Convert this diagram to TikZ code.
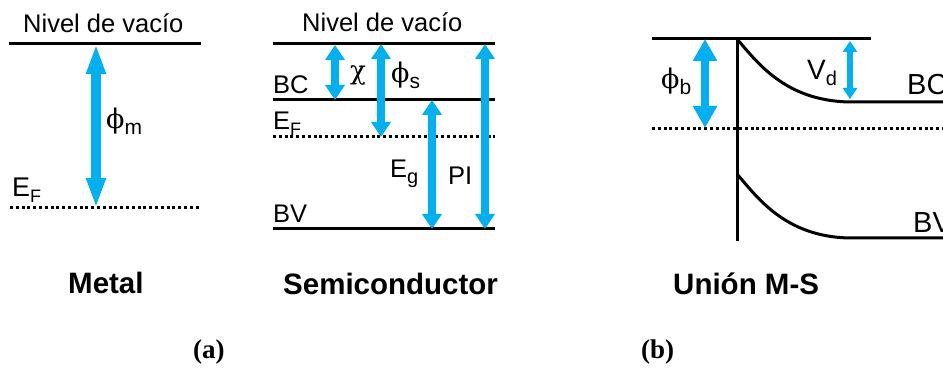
\documentclass[tikz,border=0pt]{standalone}
\usepackage{fontspec}
\setmainfont{Liberation Sans}
\newfontfamily\grk{DejaVu Serif}
\newfontfamily\tms{Liberation Serif}
\usetikzlibrary{arrows.meta}
\definecolor{cy}{RGB}{0,176,240}
\newcommand\fs[1]{\fontsize{#1}{#1}\selectfont}
\newcommand\sbs[2]{\raisebox{-0.2em}{\fs{#1}#2}}
\tikzset{
  lvl/.style={line width=3pt},
  dots/.style={line width=3pt, dash pattern=on 3pt off 2.8pt},
  bigarr/.style={draw=cy, line width=10pt, {Triangle[width=18pt,length=30pt]}-{Triangle[width=18pt,length=30pt]}},
  midarr/.style={draw=cy, line width=8pt, {Triangle[width=19pt,length=15pt]}-{Triangle[width=19pt,length=15pt]}},
  barr/.style={draw=cy, line width=8pt, {Triangle[width=23pt,length=22pt]}-{Triangle[width=23pt,length=22pt]}},
  sarr/.style={draw=cy, line width=6pt, {Triangle[width=14pt,length=11pt]}-{Triangle[width=14pt,length=11pt]}},
  lab/.style={anchor=base west, inner sep=0pt, font=\fs{25.5}},
  blab/.style={anchor=base west, inner sep=0pt, font=\fs{29.5}\bfseries},
  tlab/.style={anchor=base west, inner sep=0pt, font=\tms\fs{27}\bfseries},
}
\begin{document}
\begin{tikzpicture}[x=1pt,y=-1pt]
\useasboundingbox (0,0) rectangle (943,371);
% ---------- Metal ----------
\coordinate (mv1) at (9,44);   \coordinate (mv2) at (201,44);
\coordinate (mf1) at (10,208); \coordinate (mf2) at (201,208);
\coordinate (ma1) at (96,44);  \coordinate (ma2) at (96,208);
\draw[lvl] (mv1) -- (mv2);
\draw[dots] (mf1) -- (mf2);
\draw[bigarr] (ma1) -- (ma2);
\node[lab] (mvac) at (23,33) {Nivel de vacío};
\node[lab] (mphi) at (106,129) {{\grk\fs{27}ϕ}\sbs{21}{m}};
\node[lab, font=\fs{27}] (mef) at (12,197) {E\sbs{18}{F}};
% ---------- Semiconductor ----------
\coordinate (sv1) at (273,44);  \coordinate (sv2) at (495,44);
\coordinate (sc1) at (273,100); \coordinate (sc2) at (495,100);
\coordinate (sf1) at (273,137); \coordinate (sf2) at (495,137);
\coordinate (sb1) at (273,229); \coordinate (sb2) at (495,229);
\draw[lvl] (sv1) -- (sv2);
\draw[lvl] (sc1) -- (sc2);
\draw[dots] (sf1) -- (sf2);
\draw[lvl] (sb1) -- (sb2);
\coordinate (chi1) at (335,45);  \coordinate (chi2) at (335,100);
\coordinate (phs1) at (381,44);  \coordinate (phs2) at (381,137);
\coordinate (eg1) at (432,100);  \coordinate (eg2) at (432,229);
\coordinate (pi1) at (485,44);   \coordinate (pi2) at (485,229);
\draw[midarr] (chi1) -- (chi2);
\draw[midarr] (phs1) -- (phs2);
\draw[midarr] (eg1) -- (eg2);
\draw[midarr] (pi1) -- (pi2);
\node[lab] (svac) at (302,32) {Nivel de vacío};
\node[lab] (sbc) at (273,94) {BC};
\node[lab] (sef) at (273,130) {E\sbs{18}{F}};
\node[lab] (sbv) at (273,223) {BV};
\node[lab] (schi) at (350,80) {{\grk\fs{26}χ}};
\node[lab] (sphi) at (391,83) {{\grk\fs{27}ϕ}\sbs{21}{s}};
\node[lab] (seg) at (390,178) {E\sbs{20}{g}};
\node[lab] (spi) at (448,185) {PI};
% ---------- Union M-S ----------
\coordinate (ut1) at (652,39);  \coordinate (ut2) at (871,39);
\coordinate (uw1) at (737,39);  \coordinate (uw2) at (737,241);
\coordinate (uf1) at (652,129); \coordinate (uf2) at (943,129);
\coordinate (ucb) at (850,102); \coordinate (uce) at (943,102);
\coordinate (uv0) at (737,174); \coordinate (uvb) at (850,238); \coordinate (uve) at (943,238);
\draw[lvl] (ut1) -- (ut2);
\draw[lvl] (uw1) -- (uw2);
\draw[dots] (uf1) -- (uf2);
\draw[lvl] (uw1) .. controls (757,62) and (785,101) .. (ucb) -- (uce);
\draw[lvl] (uv0) .. controls (757,197) and (785,237) .. (uvb) -- (uve);
\coordinate (phb1) at (705,39); \coordinate (phb2) at (705,128);
\coordinate (vd1) at (850,41);  \coordinate (vd2) at (850,99);
\draw[barr] (phb1) -- (phb2);
\draw[sarr] (vd1) -- (vd2);
\node[lab] (uphi) at (661,89) {{\grk\fs{27}ϕ}\sbs{21}{b}};
\node[lab, font=\fs{28}] (uvd) at (807,80) {V\sbs{20}{d}};
\node[lab, font=\fs{29}] (ubc) at (907,95) {BC};
\node[lab, font=\fs{29}] (ubv) at (913,233) {BV};
% ---------- captions ----------
\node[blab] (cmet) at (68,294) {Metal};
\node[blab] (csem) at (283,295) {Semiconductor};
\node[blab] (cuni) at (673,295) {Unión M-S};
\node[tlab] (ca) at (193,359) {(a)};
\node[tlab] (cb) at (641,359) {(b)};
\end{tikzpicture}
\end{document}
